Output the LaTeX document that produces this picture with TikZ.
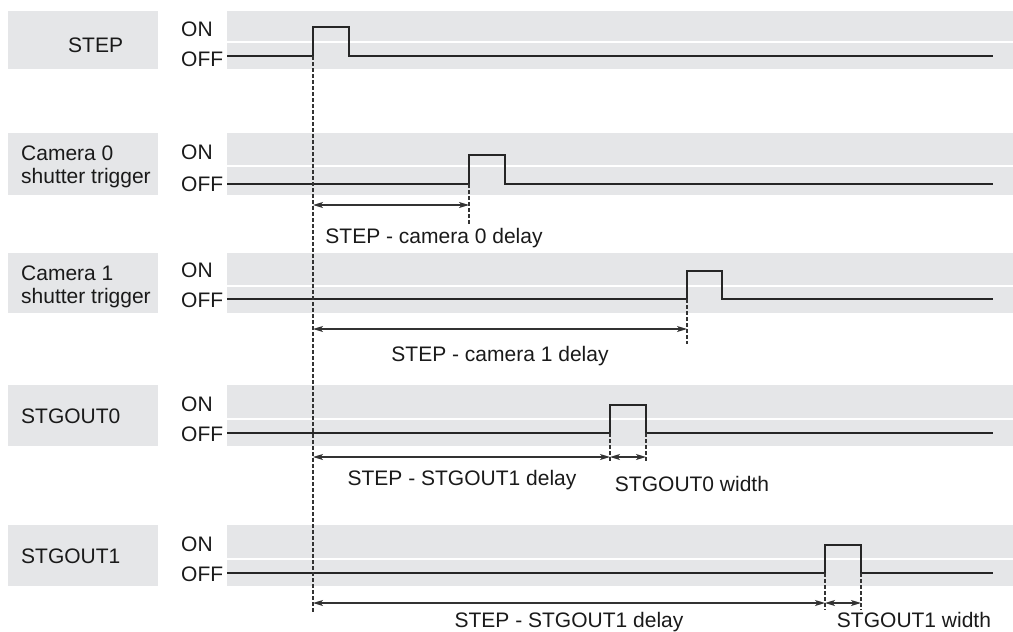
\documentclass[tikz,border=0pt]{standalone}
\usepackage{fontspec}
\setmainfont{Liberation Sans}
\usetikzlibrary{positioning, arrows.meta, calc}

\begin{document}
\begin{tikzpicture}[
    x=1pt, y=-1pt,
    font=\fontsize{21}{22.5}\selectfont,
    >={Stealth[length=10pt,width=6pt,inset=2.5pt]},
]
% ── Colours ──
\definecolor{bandc}{HTML}{E5E6E8}
\definecolor{wavec}{HTML}{262626}
\definecolor{guidec}{HTML}{333333}
\definecolor{textc}{HTML}{1A1A1A}

% ── Styles ──
\tikzset{
    band/.style={fill=bandc},
    sig-name/.style={anchor=west, inner sep=0pt, align=left, text=textc},
    level/.style={anchor=west, inner sep=0pt, text=textc},
    wave/.style={draw=wavec, line width=2.6pt, line join=miter},
    guide/.style={draw=guidec, line width=1.3pt, dash pattern=on 3.5pt off 2.5pt},
    span/.style={<->, draw=guidec, line width=1.2pt},
    annot/.style={anchor=base, inner sep=0pt, text=textc},
}

\useasboundingbox (0,0) rectangle (1013,632);

% ── Grey panels (name box, ON band, OFF band) ──
\fill[band] (8,11) rectangle (158,69);
\fill[band] (227,11) rectangle (1013,41);
\fill[band] (227,43) rectangle (1013,69);

\fill[band] (8,133) rectangle (158,195);
\fill[band] (227,133) rectangle (1013,165);
\fill[band] (227,167) rectangle (1013,195);

\fill[band] (8,253) rectangle (158,313);
\fill[band] (227,253) rectangle (1013,285);
\fill[band] (227,287) rectangle (1013,313);

\fill[band] (8,385) rectangle (158,446);
\fill[band] (227,385) rectangle (1013,418);
\fill[band] (227,420) rectangle (1013,446);

\fill[band] (8,525) rectangle (158,586);
\fill[band] (227,525) rectangle (1013,558);
\fill[band] (227,560) rectangle (1013,586);

% ── Signal names ──
\node[sig-name] (step-lbl) at (68,45) {STEP};
\node[sig-name] (cam0-lbl) at (21,167) {Camera 0\\shutter trigger};
\node[sig-name] (cam1-lbl) at (21,287) {Camera 1\\shutter trigger};
\node[sig-name] (out0-lbl) at (21,416) {STGOUT0};
\node[sig-name] (out1-lbl) at (21,556) {STGOUT1};

% ── ON / OFF levels ──
\node[level] (step-on) at (181,29) {ON};
\node[level] (step-off) at (181,59) {OFF};
\node[level] (cam0-on) at (181,152) {ON};
\node[level] (cam0-off) at (181,184) {OFF};
\node[level] (cam1-on) at (181,270) {ON};
\node[level] (cam1-off) at (181,300) {OFF};
\node[level] (out0-on) at (181,404) {ON};
\node[level] (out0-off) at (181,434) {OFF};
\node[level] (out1-on) at (181,544) {ON};
\node[level] (out1-off) at (181,574) {OFF};

% ── Pulse edges ──
\coordinate (step-up) at (313,56);
\coordinate (step-dn) at (349,56);
\coordinate (cam0-up) at (469,184);
\coordinate (cam0-dn) at (505,184);
\coordinate (cam1-up) at (687,299);
\coordinate (cam1-dn) at (722,299);
\coordinate (out0-up) at (610,433);
\coordinate (out0-dn) at (646,433);
\coordinate (out1-up) at (825,573);
\coordinate (out1-dn) at (861,573);

% ── Waveforms ──
\draw[wave] (227,56) -- (step-up) -- ++(0,-29) -| (step-dn) -- (993,56);
\draw[wave] (227,184) -- (cam0-up) -- ++(0,-29) -| (cam0-dn) -- (993,184);
\draw[wave] (227,299) -- (cam1-up) -- ++(0,-28) -| (cam1-dn) -- (993,299);
\draw[wave] (227,433) -- (out0-up) -- ++(0,-28) -| (out0-dn) -- (993,433);
\draw[wave] (227,573) -- (out1-up) -- ++(0,-28) -| (out1-dn) -- (993,573);

% ── Timing guides ──
\coordinate (step-end) at (313,612);
\coordinate (cam0-tk) at (469,224);
\coordinate (cam1-tk) at (687,344);
\coordinate (out0-tk) at (610,463);
\coordinate (out0-tw) at (646,463);
\coordinate (out1-tk) at (825,610);
\coordinate (out1-tw) at (861,610);

\draw[guide] (step-up) -- (step-end);
\draw[guide] (cam0-up) -- (cam0-tk);
\draw[guide] (cam1-up) -- (cam1-tk);
\draw[guide] (out0-up) -- (out0-tk);
\draw[guide] (out0-dn) -- (out0-tw);
\draw[guide] (out1-up) -- (out1-tk);
\draw[guide] (out1-dn) -- (out1-tw);

% ── Delay / width spans ──
\draw[span] (313,205) -- (469,205);
\draw[span] (313,329) -- (687,329);
\draw[span] (313,457) -- (610,457);
\draw[span] (610,457) -- (646,457);
\draw[span] (313,603) -- (825,603);
\draw[span] (825,603) -- (861,603);

\node[annot] (cam0-txt) at (434,243) {STEP - camera 0 delay};
\node[annot] (cam1-txt) at (500,361) {STEP - camera 1 delay};
\node[annot] (out0-txt) at (462,485) {STEP - STGOUT1 delay};
\node[annot] (out0-w) at (692,491) {STGOUT0 width};
\node[annot] (out1-txt) at (569,627) {STEP - STGOUT1 delay};
\node[annot] (out1-w) at (914,627) {STGOUT1 width};

\end{tikzpicture}
\end{document}
